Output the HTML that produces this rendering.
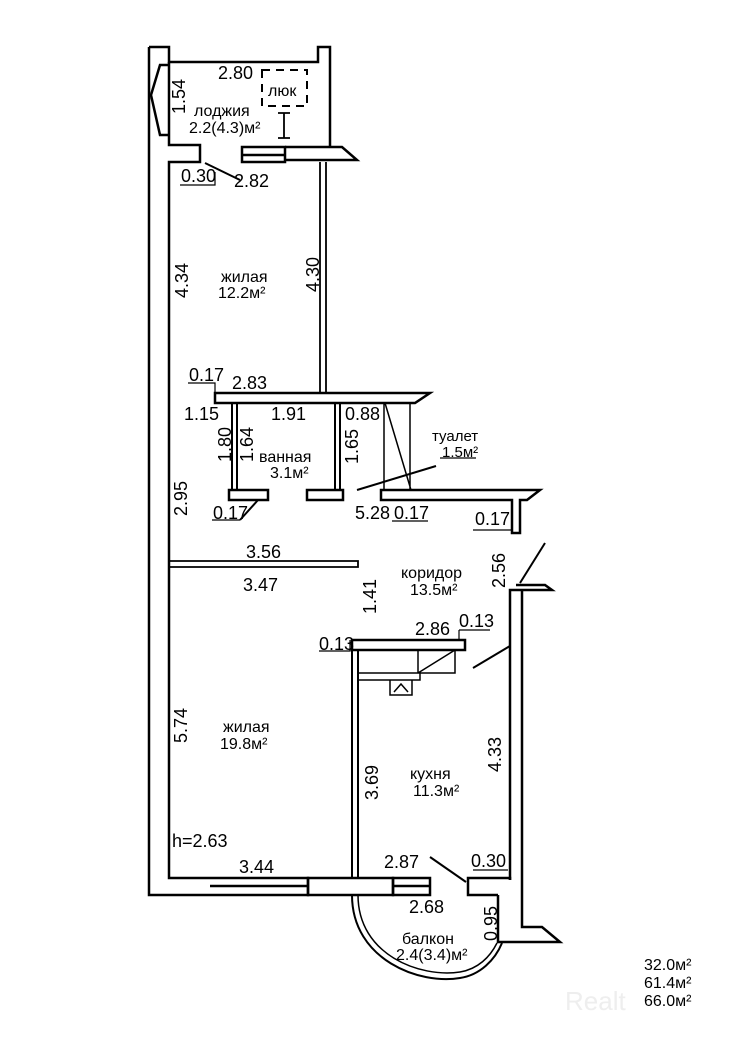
<!DOCTYPE html>
<html><head><meta charset="utf-8"><style>
body{margin:0;background:#fff}
svg text{font-family:"Liberation Sans",sans-serif;font-size:18px;fill:#000}
.s{font-size:15px}
.l{font-size:16px}
</style></head><body>
<svg width="736" height="1058" viewBox="0 0 736 1058" xmlns="http://www.w3.org/2000/svg">
<g fill="none" stroke="#000" stroke-width="2.5">
<path d="M149 47 H169 V62 H318 V47 H330 V147"/>
<path d="M149 47 V895 H210"/>
<path d="M169 62 V145 H200 V162 H169 V878 H210"/>
<path d="M169 65 H160 L151 95 L160 135 H169" />
<path d="M242 147 H285 V162 H242 Z M242 155 H285"/>
<path d="M285 147 H342 L357 160 H285"/>
<path d="M320 162 V393 M326 162 V393" stroke-width="1.8"/>
<path d="M215 393 H430 L415 403 H215 Z"/>
<path d="M232 403 V491 M237 403 V491 M335 403 V491 M340 403 V491" stroke-width="2"/>
<path d="M229 490 H268 V500 H229 Z M307 490 H343 V500 H307 Z"/>
<path d="M384 403 V490 M410 403 V490 M385 403 L411 490" stroke-width="1.5"/>
<path d="M381 490 H540 L527 500 H520 V533 H512 V500 H381 Z"/>
<path d="M168 561 H358 V567 H168" stroke-width="1.8"/>
<path d="M352 640 H465 V650 H352 Z"/>
<path d="M352 650 V878 M358 650 V878" stroke-width="2"/>
<path d="M358 673 H455 V650 M418 650 V673 M418 673 L455 650 M358 680 H420 V673" stroke-width="1.5"/>
<path d="M390 680 V695 H412 V680 M394 692 L401 684 L408 692" stroke-width="1.5"/>
<path d="M510 880 V590 H522 L552 590 L545 585 H516" />
<path d="M522 590 V927 H542 L560 942 H498 V895 M510 880 V878 H468 V895 H498"/>
<path d="M210 878 H308 V895 H210 M210 886 H308"/>
<path d="M308 878 H393 V895 H308 Z"/>
<path d="M393 878 H430 V895 H393 Z M393 886 H430"/>
<path d="M352 895 C352 960 420 985 460 978 C480 975 495 960 502 943" stroke-width="2"/>
<path d="M358 895 C358 955 420 978 460 972 C478 969 490 957 497 943" stroke-width="1.5"/>
<g stroke-width="2">
<path d="M205 163 L240 180"/>
<path d="M357 490 L436 466"/>
<path d="M473 668 L510 646"/>
<path d="M430 857 L466 882"/>
<path d="M520 583 L545 543"/>
<path d="M258 500 L240 520"/>
</g>
<path d="M262 70 H307 V106 H262 Z" stroke-dasharray="8 6" stroke-width="2"/>
<path d="M284 113 V138 M278 113 H290 M278 138 H290" stroke-width="1.8"/>
<g stroke-width="1.2">
<path d="M180 185 H215 V172"/>
<path d="M188 383 H215 V393"/>
<path d="M212 520 H240"/>
<path d="M392 521 H428"/>
<path d="M473 530 H512"/>
<path d="M319 651 H350 V640"/>
<path d="M459 630 H490 M459 630 V640"/>
<path d="M473 870 H508"/>
<path d="M440 458 H476"/>
</g>
</g>
<text x="218" y="79">2.80</text>
<text x="268" y="96" class="l">люк</text>
<text x="194" y="116" class="l">лоджия</text>
<text x="189" y="133" class="l">2.2(4.3)м²</text>
<text transform="translate(185,114) rotate(-90)">1.54</text>
<text x="181" y="182">0.30</text>
<text x="234" y="187">2.82</text>
<text x="221" y="282" class="l">жилая</text>
<text x="218" y="298" class="l">12.2м²</text>
<text transform="translate(188,298) rotate(-90)">4.34</text>
<text transform="translate(319,292) rotate(-90)">4.30</text>
<text x="189" y="381">0.17</text>
<text x="232" y="389">2.83</text>
<text x="184" y="420">1.15</text>
<text x="271" y="420">1.91</text>
<text x="345" y="420">0.88</text>
<text transform="translate(231,462) rotate(-90)">1.80</text>
<text transform="translate(253,462) rotate(-90)">1.64</text>
<text transform="translate(358,464) rotate(-90)">1.65</text>
<text x="259" y="462" class="l">ванная</text>
<text x="270" y="478" class="l">3.1м²</text>
<text x="432" y="441" class="s">туалет</text>
<text x="442" y="457" class="s">1.5м²</text>
<text transform="translate(187,516) rotate(-90)">2.95</text>
<text x="213" y="519">0.17</text>
<text x="355" y="519">5.28</text>
<text x="394" y="519">0.17</text>
<text x="475" y="525">0.17</text>
<text x="246" y="558">3.56</text>
<text x="243" y="591">3.47</text>
<text x="401" y="578" class="l">коридор</text>
<text x="410" y="595" class="l">13.5м²</text>
<text transform="translate(376,614) rotate(-90)">1.41</text>
<text transform="translate(505,588) rotate(-90)">2.56</text>
<text x="415" y="635">2.86</text>
<text x="459" y="627">0.13</text>
<text x="319" y="650">0.13</text>
<text x="223" y="732" class="l">жилая</text>
<text x="220" y="749" class="l">19.8м²</text>
<text transform="translate(187,743) rotate(-90)">5.74</text>
<text transform="translate(378,800) rotate(-90)">3.69</text>
<text x="410" y="779" class="l">кухня</text>
<text x="413" y="796" class="l">11.3м²</text>
<text transform="translate(501,772) rotate(-90)">4.33</text>
<text x="172" y="847">h=2.63</text>
<text x="239" y="873">3.44</text>
<text x="384" y="868">2.87</text>
<text x="471" y="867">0.30</text>
<text x="409" y="913">2.68</text>
<text transform="translate(497,941) rotate(-90)">0.95</text>
<text x="402" y="944" class="l">балкон</text>
<text x="396" y="960" class="l">2.4(3.4)м²</text>
<text x="644" y="970" class="l">32.0м²</text>
<text x="644" y="988" class="l">61.4м²</text>
<text x="644" y="1006" class="l">66.0м²</text>
<text x="565" y="1010" style="font-size:26px;fill:#eee">Realt</text>
</svg>
</body></html>
